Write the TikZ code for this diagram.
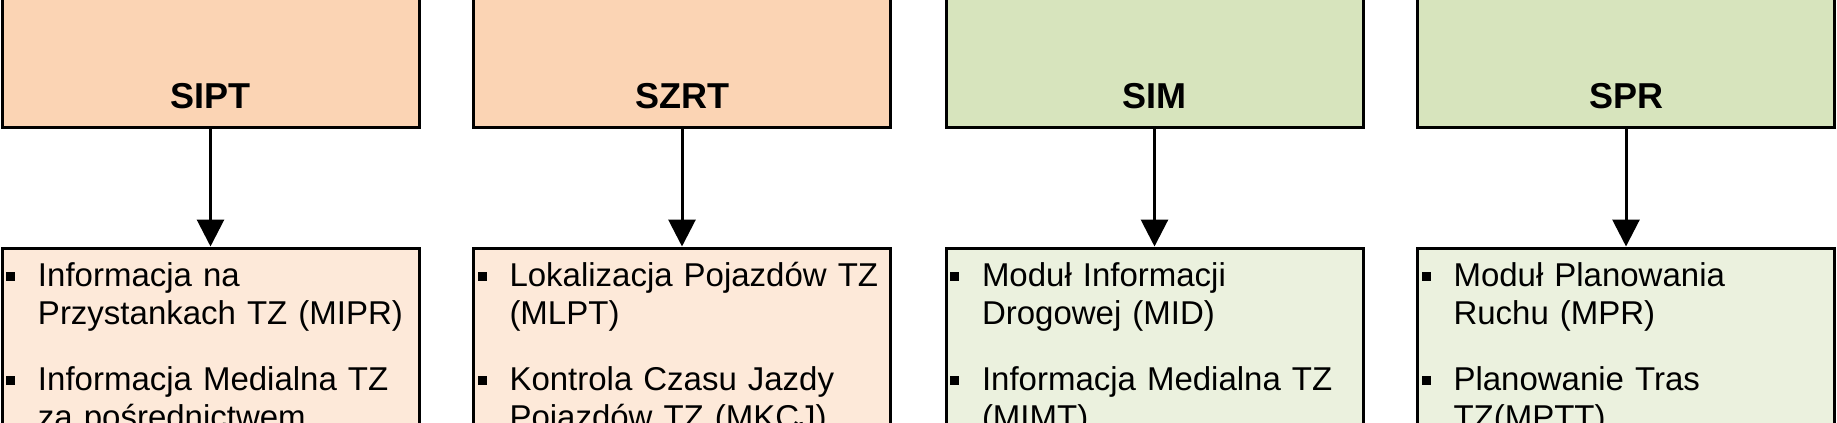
\documentclass[tikz,border=0pt]{standalone}
\usepackage{fontspec}
\setmainfont{Liberation Sans}
\usepackage{xcolor}
\usetikzlibrary{arrows.meta}
\usetikzlibrary{positioning}

\definecolor{orangetop}{RGB}{251,212,180}
\definecolor{orangelow}{RGB}{253,233,217}
\definecolor{greentop}{RGB}{215,228,189}
\definecolor{greenlow}{RGB}{235,241,222}

\newcommand{\punkt}[1]{\noindent\hangindent=16pt\hangafter=1%
    \makebox[16pt][l]{\rule[3pt]{4.5pt}{4.5pt}}#1\par}

\tikzset{
    sysbox/.style = {draw, line width = 1.5pt, rectangle, anchor = base,
        minimum width = 208.5pt, inner sep = 0pt,
        text height = 84pt, text depth = 9.5pt,
        font = \fontsize{18pt}{22pt}\selectfont\bfseries},
    modbox/.style = {draw, line width = 1.5pt, rectangle,
        text width = 204.5pt, inner xsep = 2pt, inner ysep = 7.3pt,
        font = \fontsize{16.5pt}{19pt}\selectfont},
    arr/.style = {-{Triangle[length = 13.5pt, width = 13.5pt]}, line width = 1.5pt}
}

\begin{document}
\begin{tikzpicture}[x = 0.5pt, y = -0.5pt, node distance = 59pt]
    \useasboundingbox (0, 0) rectangle (1837, 423);
    \clip (0, 0) rectangle (1837, 423);

    %% systems
    \node[sysbox, fill = orangetop] (sipt) at (210.5, 108) {SIPT};
    \node[sysbox, fill = orangetop] (szrt) at (682, 108) {SZRT};
    \node[sysbox, fill = greentop] (sim) at (1154.5, 108) {SIM};
    \node[sysbox, fill = greentop] (spr) at (1626, 108) {SPR};

    %% modules
    \node[modbox, fill = orangelow, below = of sipt] (sipt-mod) {%
        \punkt{Informacja na\newline Przystankach TZ (MIPR)}
        \vspace{14pt}
        \punkt{Informacja Medialna TZ\newline za pośrednictwem}};
    \node[modbox, fill = orangelow, below = of szrt] (szrt-mod) {%
        \punkt{Lokalizacja Pojazdów TZ\newline (MLPT)}
        \vspace{14pt}
        \punkt{Kontrola Czasu Jazdy\newline Pojazdów TZ (MKCJ)}};
    \node[modbox, fill = greenlow, below = of sim] (sim-mod) {%
        \punkt{Moduł Informacji\newline Drogowej (MID)}
        \vspace{14pt}
        \punkt{Informacja Medialna TZ\newline (MIMT)}};
    \node[modbox, fill = greenlow, below = of spr] (spr-mod) {%
        \punkt{Moduł Planowania\newline Ruchu (MPR)}
        \vspace{14pt}
        \punkt{Planowanie Tras\newline TZ(MPTT)}};

    %% arrows
    \draw[arr] (sipt) -- (sipt-mod);
    \draw[arr] (szrt) -- (szrt-mod);
    \draw[arr] (sim) -- (sim-mod);
    \draw[arr] (spr) -- (spr-mod);
\end{tikzpicture}
\end{document}
